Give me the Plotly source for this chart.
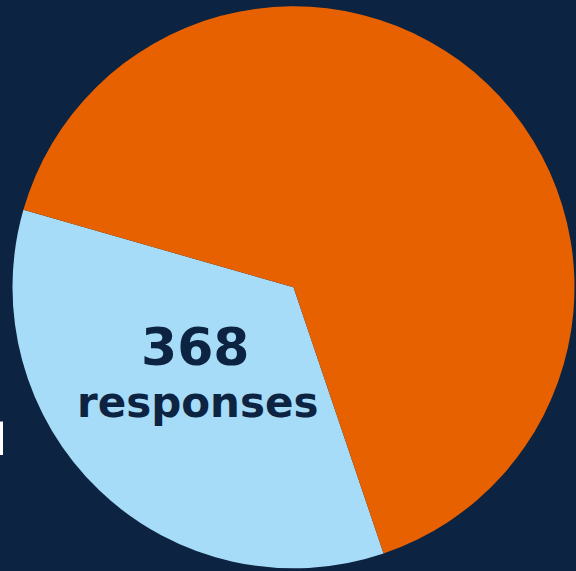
import plotly.graph_objects as go

labels = ["Blue group", "Orange group"]
shares = [34.64, 65.36]
colors = ["#a6dcf7", "#e86100"]
center_number = "368"
center_word = "responses"

BG = "#0c2341"
W, H = 576, 571

fig = go.Figure(go.Pie(
    labels=labels,
    values=shares,
    sort=False,
    direction="clockwise",
    rotation=161.3,
    marker=dict(colors=colors, line=dict(width=0)),
    textinfo="none",
    hoverinfo="label+percent",
    showlegend=False,
    domain=dict(x=[(293.5 - 281) / W, (293.5 + 281) / W],
                y=[(H - 287.3 - 281) / H, (H - 287.3 + 281) / H]),
))

fig.add_annotation(text="<b>" + center_number + "</b>", x=195.5 / W, y=1 - 347 / H,
                   xref="paper", yref="paper", showarrow=False,
                   xanchor="center", yanchor="middle",
                   font=dict(family="DejaVu Sans", size=52, color=BG))
fig.add_annotation(text="<b>" + center_word + "</b>", x=197.5 / W, y=1 - 402 / H,
                   xref="paper", yref="paper", showarrow=False,
                   xanchor="center", yanchor="middle",
                   font=dict(family="DejaVu Sans", size=42, color=BG))

fig.add_shape(type="rect", xref="paper", yref="paper",
              x0=0, x1=3 / W, y0=1 - 455 / H, y1=1 - 421.5 / H,
              fillcolor="white", line=dict(width=0))

fig.update_layout(width=W, height=H, margin=dict(l=0, r=0, t=0, b=0),
                  paper_bgcolor=BG, plot_bgcolor=BG)

fig.write_html("out.html", config={"displayModeBar": False},
               post_script="document.body.style.margin='0';document.body.style.background='%s';" % BG)
